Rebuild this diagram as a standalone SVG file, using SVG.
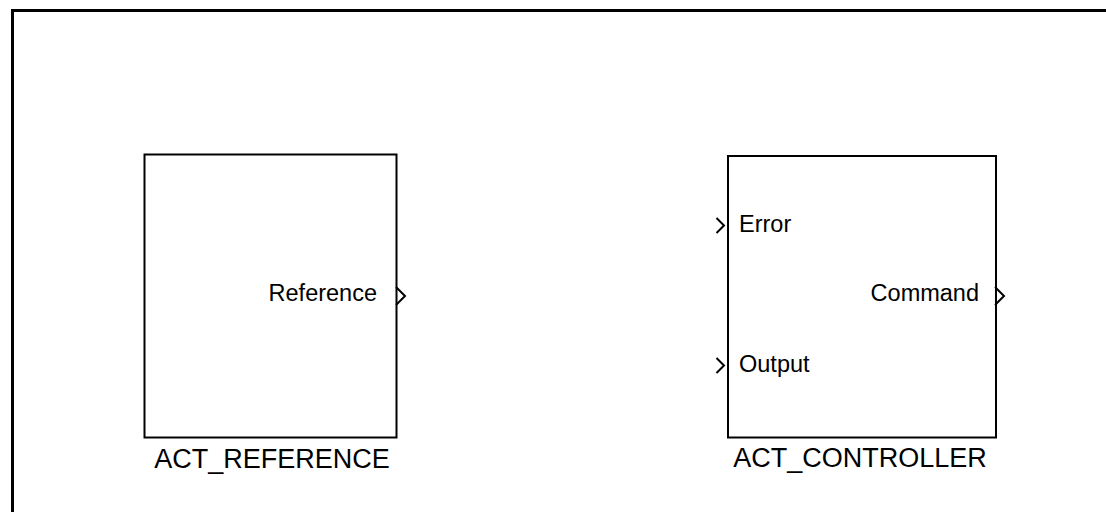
<svg xmlns="http://www.w3.org/2000/svg" width="1106" height="512" viewBox="0 0 1106 512">
<style>
.frame{fill:none;stroke:#000;stroke-width:3}
.blk{fill:#fff;stroke:#000;stroke-width:2}
.port{fill:none;stroke:#000;stroke-width:2;stroke-linejoin:miter}
.lbl{font-family:"Liberation Sans",Arial,sans-serif;font-size:23.5px;fill:#000}
.title{font-family:"Liberation Sans",Arial,sans-serif;font-size:27px;fill:#000;text-anchor:middle}
</style>
<rect width="1106" height="512" fill="#fff"/>
<rect class="frame" x="12.5" y="10.5" width="1200" height="600"/>
<g id="ACT_REFERENCE">
<rect class="blk" x="144.5" y="154.5" width="252" height="283"/>
<text class="lbl" x="377" y="301" text-anchor="end">Reference</text>
<path class="port" d="M396,287 L405,296 L396,305"/>
<text class="title" x="272" y="468">ACT_REFERENCE</text>
</g>
<g id="ACT_CONTROLLER">
<rect class="blk" x="728" y="156" width="268" height="281.5"/>
<text class="lbl" x="739" y="232">Error</text>
<path class="port" d="M716.5,218 L724,225.5 L716.5,233"/>
<text class="lbl" x="739" y="372">Output</text>
<path class="port" d="M716.5,358 L724,365.5 L716.5,373"/>
<text class="lbl" x="979" y="301" text-anchor="end">Command</text>
<path class="port" d="M995,287 L1004,296 L995,305"/>
<text class="title" x="860" y="467">ACT_CONTROLLER</text>
</g>
<g id="connectors"/>
</svg>
